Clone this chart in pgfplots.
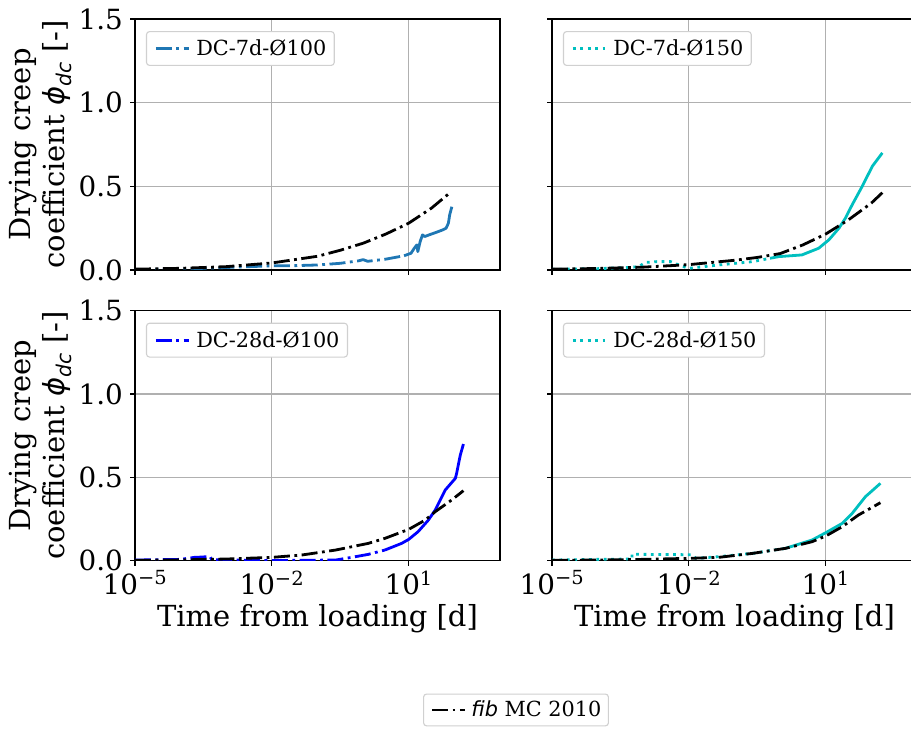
\documentclass[border=0pt]{standalone}
\usepackage{fontspec}
\setmainfont{DejaVu Serif}
\newfontfamily\dvsans{DejaVu Sans}
\usepackage{pgfplots}
\pgfplotsset{compat=1.18}

\definecolor{tabblue}{HTML}{1F77B4}
\definecolor{purecyan}{rgb}{0,0.75,0.75}
\definecolor{gridgray}{HTML}{B0B0B0}
\definecolor{legframe}{HTML}{D0D0D0}

\newcommand{\tickfont}{\fontsize{27.8}{33.4}\selectfont}
\newcommand{\labfont}{\fontsize{29}{34.5}\selectfont}
\newcommand{\legfont}{\fontsize{20.8}{25}\selectfont}

\tikzset{
  dashdot/.style={dash pattern=on 16pt off 4.5pt on 2.8pt off 4.5pt},
  mpldotted/.style={dash pattern=on 2.8pt off 4.6pt},
}

\pgfplotsset{
  legend image code/.code={\draw[#1] (0pt,0pt) -- (33pt,0pt);},
  every axis plot/.append style={line width=2.8pt, line join=round},
}

\begin{document}
\begin{tikzpicture}

% ---------- 7 days, diameter 100 mm ----------
\begin{axis}[
  scale only axis, width=365pt, height=251pt, at={(135pt,459pt)}, anchor=south west,
  xmode=log, xmin=1e-5, xmax=1e3, ymin=0, ymax=1.5,
  xtick={1e-5,1e-2,1e1}, ytick={0,0.5,1,1.5},
  xminorticks=false, yminorticks=false,
  grid=major, major grid style={gridgray, line width=1.1pt},
  axis line style={line width=1.1pt, black},
  tick style={line width=1.1pt, black},
  major tick length=4.9pt, tick align=outside,
  xtick pos=bottom, ytick pos=left,
  ticklabel style={font=\tickfont, inner sep=0pt},
  xticklabels={},
  yticklabels={0.0,0.5,1.0,1.5},
  yticklabel style={xshift=-7pt},
  ylabel={Drying creep\\coefficient {\dvsans\itshape ϕ\textsubscript{dc}} [-]},
  ylabel style={font=\labfont, align=center, inner sep=0pt, at={(axis description cs:-0.1726,0.5)}, anchor=south},
  legend cell align=left,
  legend style={
    at={(axis description cs:0.03,0.952)}, anchor=north west,
    draw=legframe, line width=1.1pt, rounded corners=3pt, fill=white,
    font=\legfont, inner xsep=8pt, inner ysep=8pt, column sep=6pt,
    nodes={inner sep=0pt, text depth=0.2em},
  },
]
\addplot[tabblue, dashdot] table {
t phi
1e-5 0.002
3.16e-5 0.004
1e-4 0.006
3.16e-4 0.010
1e-3 0.015
3.16e-3 0.020
1e-2 0.025
3.16e-2 0.026
0.1 0.030
0.316 0.040
0.8 0.055
1.0 0.062
1.26 0.052
3.16 0.065
7.9 0.085
};
\addlegendentry{DC-7d-Ø100}
\addplot[tabblue, forget plot] table {
t phi
7.9 0.085
11.2 0.100
13.2 0.130
15.1 0.150
15.8 0.110
17.8 0.170
20 0.210
22.4 0.200
28 0.210
40 0.225
56 0.240
66 0.250
74 0.280
79 0.330
88 0.378
};
\addplot[black, dashdot, forget plot] table {
t phi
1e-5 0.005
1e-4 0.010
1e-3 0.020
1e-2 0.042
0.1 0.082
0.316 0.118
1 0.160
3.16 0.215
10 0.280
31.6 0.370
74 0.454
};
\end{axis}

% ---------- 7 days, diameter 150 mm ----------
\begin{axis}[
  scale only axis, width=365pt, height=251pt, at={(552pt,459pt)}, anchor=south west,
  xmode=log, xmin=1e-5, xmax=1e3, ymin=0, ymax=1.5,
  xtick={1e-5,1e-2,1e1}, ytick={0,0.5,1,1.5},
  xminorticks=false, yminorticks=false,
  grid=major, major grid style={gridgray, line width=1.1pt},
  axis line style={line width=1.1pt, black},
  tick style={line width=1.1pt, black},
  major tick length=4.9pt, tick align=outside,
  xtick pos=bottom, ytick pos=left,
  ticklabel style={font=\tickfont, inner sep=0pt},
  xticklabels={}, yticklabels={},
  legend cell align=left,
  legend style={
    at={(axis description cs:0.03,0.952)}, anchor=north west,
    draw=legframe, line width=1.1pt, rounded corners=3pt, fill=white,
    font=\legfont, inner xsep=8pt, inner ysep=8pt, column sep=6pt,
    nodes={inner sep=0pt, text depth=0.2em},
  },
]
\addplot[purecyan, mpldotted] table {
t phi
1e-5 0.004
1e-4 0.008
5e-4 0.015
8e-4 0.020
1.1e-3 0.045
2e-3 0.050
4e-3 0.050
6e-3 0.030
1e-2 0.010
4.5e-2 0.030
0.25 0.050
0.6 0.070
};
\addlegendentry{DC-7d-Ø150}
\addplot[purecyan, forget plot] table {
t phi
0.6 0.070
0.94 0.080
3 0.090
7 0.130
11.7 0.180
19.5 0.250
27 0.310
38 0.390
63 0.500
105 0.620
174 0.700
};
\addplot[black, dashdot, forget plot] table {
t phi
1e-5 0.005
1e-4 0.009
1e-3 0.017
1e-2 0.032
0.1 0.058
0.316 0.075
1 0.098
3.16 0.150
10 0.215
31.6 0.300
100 0.400
174 0.462
};
\end{axis}

% ---------- 28 days, diameter 100 mm ----------
\begin{axis}[
  scale only axis, width=365pt, height=250pt, at={(135pt,168.3pt)}, anchor=south west,
  xmode=log, xmin=1e-5, xmax=1e3, ymin=0, ymax=1.5,
  xtick={1e-5,1e-2,1e1}, ytick={0,0.5,1,1.5},
  xminorticks=false, yminorticks=false,
  grid=major, major grid style={gridgray, line width=1.1pt},
  axis line style={line width=1.1pt, black},
  tick style={line width=1.1pt, black},
  major tick length=4.9pt, tick align=outside,
  xtick pos=bottom, ytick pos=left,
  ticklabel style={font=\tickfont, inner sep=0pt},
  xticklabels={10\textsuperscript{−5}, 10\textsuperscript{−2}, 10\textsuperscript{1}},
  xticklabel style={yshift=-5pt},
  yticklabels={0.0,0.5,1.0,1.5},
  yticklabel style={xshift=-7pt},
  xlabel={Time from loading [d]},
  xlabel style={font=\labfont, inner sep=0pt, at={(axis description cs:0.5,-0.264)}, anchor=base},
  ylabel={Drying creep\\coefficient {\dvsans\itshape ϕ\textsubscript{dc}} [-]},
  ylabel style={font=\labfont, align=center, inner sep=0pt, at={(axis description cs:-0.1726,0.5)}, anchor=south},
  legend cell align=left,
  legend style={
    at={(axis description cs:0.03,0.952)}, anchor=north west,
    draw=legframe, line width=1.1pt, rounded corners=3pt, fill=white,
    font=\legfont, inner xsep=8pt, inner ysep=8pt, column sep=6pt,
    nodes={inner sep=0pt, text depth=0.2em},
  },
]
\addplot[blue, dashdot] table {
t phi
1e-5 0.004
1e-4 0.008
2e-4 0.020
3e-4 0.022
4.4e-4 0.026
4.8e-4 0.006
1e-2 0.001
0.25 0.004
0.56 0.020
1.3 0.038
3 0.064
};
\addlegendentry{DC-28d-Ø100}
\addplot[blue, forget plot] table {
t phi
3 0.064
7 0.104
10 0.128
16 0.174
27 0.244
38 0.304
63 0.424
105 0.494
112 0.524
135 0.634
158 0.700
};
\addplot[black, dashdot, forget plot] table {
t phi
1e-5 0.002
1e-4 0.005
1e-3 0.010
1e-2 0.020
0.045 0.034
0.25 0.064
1.3 0.104
3 0.134
10 0.188
23 0.244
38 0.294
87 0.364
158 0.420
};
\end{axis}

% ---------- 28 days, diameter 150 mm ----------
\begin{axis}[
  scale only axis, width=365pt, height=250pt, at={(552pt,168.3pt)}, anchor=south west,
  xmode=log, xmin=1e-5, xmax=1e3, ymin=0, ymax=1.5,
  xtick={1e-5,1e-2,1e1}, ytick={0,0.5,1,1.5},
  xminorticks=false, yminorticks=false,
  grid=major, major grid style={gridgray, line width=1.1pt},
  axis line style={line width=1.1pt, black},
  tick style={line width=1.1pt, black},
  major tick length=4.9pt, tick align=outside,
  xtick pos=bottom, ytick pos=left,
  ticklabel style={font=\tickfont, inner sep=0pt},
  xticklabels={10\textsuperscript{−5}, 10\textsuperscript{−2}, 10\textsuperscript{1}},
  xticklabel style={yshift=-5pt},
  yticklabels={},
  xlabel={Time from loading [d]},
  xlabel style={font=\labfont, inner sep=0pt, at={(axis description cs:0.5,-0.264)}, anchor=base},
  legend cell align=left,
  legend style={
    at={(axis description cs:0.03,0.952)}, anchor=north west,
    draw=legframe, line width=1.1pt, rounded corners=3pt, fill=white,
    font=\legfont, inner xsep=8pt, inner ysep=8pt, column sep=6pt,
    nodes={inner sep=0pt, text depth=0.2em},
  },
]
\addplot[purecyan, mpldotted] table {
t phi
1e-5 0.004
1e-4 0.008
5.6e-4 0.010
5.7e-4 0.040
1e-3 0.038
1e-2 0.036
1.2e-2 0.036
1.4e-2 0.014
4.5e-2 0.024
0.25 0.044
1.3 0.074
};
\addlegendentry{DC-28d-Ø150}
\addplot[purecyan, forget plot] table {
t phi
1.3 0.074
5 0.124
10 0.168
23 0.224
38 0.284
74 0.384
158 0.464
};
\addplot[black, dashdot, forget plot] table {
t phi
1e-5 0.002
1e-4 0.004
1e-3 0.008
1e-2 0.014
0.045 0.020
0.25 0.044
1.3 0.074
5 0.114
10 0.148
23 0.204
52 0.274
158 0.348
};
\end{axis}

% ---------- shared legend for the model curve ----------
\begin{axis}[hide axis, scale only axis, width=911pt, height=729pt,
  at={(0pt,0pt)}, anchor=south west, xmin=0, xmax=1, ymin=0, ymax=1,
  legend style={
    at={(axis description cs:0.5664,0.0261)}, anchor=center,
    draw=legframe, line width=1.1pt, rounded corners=3pt, fill=white,
    font=\legfont, inner xsep=7pt, inner ysep=7pt, column sep=5pt,
    nodes={inner sep=0pt, text depth=0.2em},
  }]
\addlegendimage{black, dashdot, line width=2.8pt}
\addlegendentry{{\dvsans\itshape fib} MC 2010}
\end{axis}

\pgfresetboundingbox
\path[use as bounding box] (0pt,0pt) rectangle (911pt,729pt);
\end{tikzpicture}
\end{document}
